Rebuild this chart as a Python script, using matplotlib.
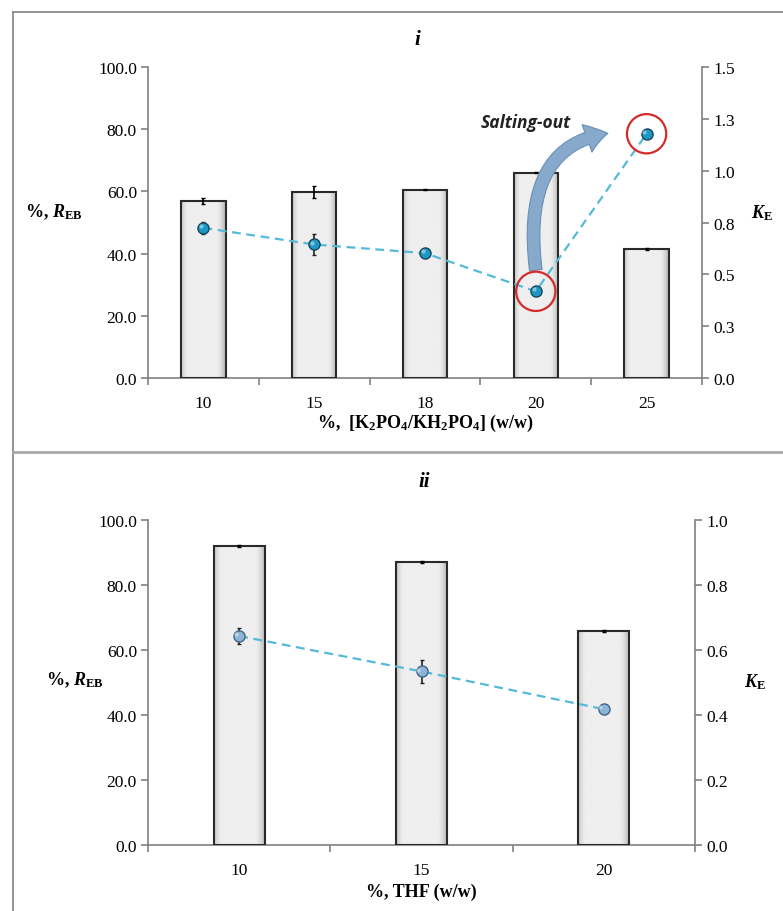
import numpy as np
import matplotlib
matplotlib.use("Agg")
import matplotlib.pyplot as plt
from matplotlib.lines import Line2D

plt.rcParams['font.family'] = ['Liberation Serif', 'DejaVu Serif']
plt.rcParams['mathtext.fontset'] = 'custom'
plt.rcParams['mathtext.rm'] = 'Liberation Serif'
plt.rcParams['mathtext.it'] = 'Liberation Serif:italic'
plt.rcParams['mathtext.bf'] = 'Liberation Serif:bold'
plt.rcParams['mathtext.bfit'] = 'Liberation Serif:bold:italic'

# ---------------- data ----------------
cats_i = ['10', '15', '18', '20', '25']
reb_i = [57.0, 59.8, 60.6, 66.0, 41.4]
reb_i_err = [0.9, 1.9, 0.3, 0.2, 0.4]
ke_i = [0.724, 0.644, 0.602, 0.418, 1.178]
ke_i_err = [0.03, 0.05, 0.01, 0.01, 0.01]
ke_i_ticks = [0.0, 0.25, 0.5, 0.75, 1.0, 1.25, 1.5]
ke_i_ticklabels = ['0.0', '0.3', '0.5', '0.8', '1.0', '1.3', '1.5']
highlight_idx = [3, 4]

cats_ii = ['10', '15', '20']
reb_ii = [92.0, 87.2, 65.9]
reb_ii_err = [0.3, 0.3, 0.3]
ke_ii = [0.643, 0.534, 0.418]
ke_ii_err = [0.024, 0.036, 0.01]

reb_ticks = [0, 20, 40, 60, 80, 100]

W, H = 783, 912
fig = plt.figure(figsize=(W / 100, H / 100), dpi=100)

GRAY = '#808080'
LINEC = '#55b9d8'


def gradient_bars(ax, bars):
    x = np.linspace(0, 1, 64)
    prof = (0.935
            - 0.16 * (np.clip(1 - x / 0.14, 0, 1) ** 1.5)
            - 0.24 * (np.clip((x - 0.80) / 0.20, 0, 1) ** 1.6))
    grad = np.tile(prof, (2, 1))
    for b in bars:
        x0, w, h = b.get_x(), b.get_width(), b.get_height()
        im = ax.imshow(grad, extent=[x0, x0 + w, 0, h], aspect='auto',
                       cmap='gray', vmin=0, vmax=1, zorder=2, interpolation='bilinear')
        im.set_clip_path(b)


def style_axes(ax, ax2, n):
    for a in (ax, ax2):
        a.spines['top'].set_visible(False)
        for s in ('left', 'right', 'bottom'):
            a.spines[s].set_color(GRAY)
            a.spines[s].set_linewidth(1.2)
    ax.spines['right'].set_visible(False)
    ax2.spines['left'].set_visible(False)
    ax2.spines['bottom'].set_visible(False)
    ax.set_xlim(-0.5, n - 0.5)
    ax.set_xticks(np.arange(-0.5, n, 1.0))
    ax.set_xticklabels([])
    ax.set_xticks(np.arange(n), minor=True)
    ax.tick_params(axis='x', which='major', direction='out', length=5, color=GRAY, width=1.2)
    ax.tick_params(axis='x', which='minor', length=0, labelsize=12.5, pad=12)
    ax.tick_params(axis='y', direction='out', length=5, color=GRAY, width=1.2, labelsize=12.5, pad=3)
    ax2.tick_params(axis='y', direction='out', length=5, color=GRAY, width=1.2, labelsize=12.5, pad=3)
    ax.set_ylim(0, 100)
    ax.set_yticks(reb_ticks)
    ax.set_yticklabels([f'{v:.1f}' for v in reb_ticks])


def panel(rect, cats, reb, reb_err, ke, ke_err, ke_lim, ke_ticks, ke_labels, bar_w, mcolor, medge):
    ax = fig.add_axes(rect)
    n = len(cats)
    xs = np.arange(n)
    bars = ax.bar(xs, reb, width=bar_w, color='none', edgecolor='#2a2a2a', linewidth=1.5, zorder=3)
    gradient_bars(ax, bars)
    ax.errorbar(xs, reb, yerr=reb_err, fmt='none', ecolor='black', elinewidth=1.2, capsize=1.5, zorder=4)
    ax.set_xticks(xs, minor=True)
    ax.set_xticklabels(cats, minor=True)
    ax2 = ax.twinx()
    ax2.errorbar(xs, ke, yerr=ke_err, fmt='none', ecolor='#222222', elinewidth=1.2, capsize=1.5, zorder=4)
    ax2.plot(xs, ke, linestyle=(0, (4, 2.5)), color=LINEC, linewidth=1.6, zorder=3)
    ax2.plot(xs, ke, linestyle='none', marker='o', markersize=8, markerfacecolor=mcolor,
             markeredgecolor=medge, markeredgewidth=1.0, zorder=5)
    ax2.plot(np.array(xs) - 0.02, np.array(ke) + (ke_lim[1] * 0.006), linestyle='none', marker='o',
             markersize=3, markerfacecolor='white', markeredgecolor='none', alpha=0.45, zorder=6)
    ax2.set_ylim(*ke_lim)
    ax2.set_yticks(ke_ticks)
    ax2.set_yticklabels(ke_labels)
    style_axes(ax, ax2, n)
    ax.set_xlim(-0.5, n - 0.5)
    return ax, ax2


# ---- panel i ----
ax1, ax1b = panel([148 / W, 1 - 379 / H, (702 - 148) / W, (379 - 68) / H],
                  cats_i, reb_i, reb_i_err, ke_i, ke_i_err, (0, 1.5),
                  ke_i_ticks, ke_i_ticklabels, 0.4, '#1d97c4', '#17465e')

# red circles
ax1b.scatter([highlight_idx[0], highlight_idx[1]], [ke_i[highlight_idx[0]], ke_i[highlight_idx[1]]],
             s=800, facecolors='none', edgecolors='#d42b2b', linewidths=1.6, zorder=6)

# curved arrow (Salting-out)
ax1b.annotate('', xy=(3.65, 1.18), xytext=(3.0, 0.52),
              arrowprops=dict(arrowstyle='simple,head_width=1.5,head_length=1.1,tail_width=0.65',
                              connectionstyle='angle3,angleA=97,angleB=8',
                              fc='#87a9cc', ec='#6b8fb6', lw=0.8, mutation_scale=14,
                              shrinkA=0, shrinkB=0), zorder=4)
fig.text(526 / W, 1 - 123 / H, 'Salting-out', ha='center', va='center',
         fontsize=12.5, fontweight='bold', fontstyle='italic',
         family=['Open Sans', 'DejaVu Sans'], color='#222222')

# ---- panel ii ----
ax2, ax2b = panel([148 / W, 1 - 846 / H, (695 - 148) / W, (846 - 521) / H],
                  cats_ii, reb_ii, reb_ii_err, ke_ii, ke_ii_err, (0, 1.0),
                  [0.0, 0.2, 0.4, 0.6, 0.8, 1.0], ['0.0', '0.2', '0.4', '0.6', '0.8', '1.0'],
                  0.28, '#8db3d6', '#3f6589')

# ---- texts ----
fs_lab = 13
fig.text(417 / W, 1 - 40 / H, 'i', ha='center', va='center', fontsize=15,
         fontweight='bold', fontstyle='italic')
fig.text(424 / W, 1 - 482 / H, 'ii', ha='center', va='center', fontsize=15,
         fontweight='bold', fontstyle='italic')

fig.text(25 / W, 1 - 212 / H, r'%, $\mathbfit{R}_{\mathbf{EB}}$', ha='left', va='center',
         fontsize=fs_lab, fontweight='bold')
fig.text(762 / W, 1 - 213 / H, r'$\mathbfit{K}_{\mathbf{E}}$', ha='center', va='center',
         fontsize=fs_lab, fontweight='bold')
fig.text(425 / W, 1 - 423 / H,
         r'%,  [K$_{\mathbf{2}}$PO$_{\mathbf{4}}$/KH$_{\mathbf{2}}$PO$_{\mathbf{4}}$] (w/w)',
         ha='center', va='center', fontsize=fs_lab, fontweight='bold')

fig.text(46 / W, 1 - 680 / H, r'%, $\mathbfit{R}_{\mathbf{EB}}$', ha='left', va='center',
         fontsize=fs_lab, fontweight='bold')
fig.text(755 / W, 1 - 682 / H, r'$\mathbfit{K}_{\mathbf{E}}$', ha='center', va='center',
         fontsize=fs_lab, fontweight='bold')
fig.text(421 / W, 1 - 892 / H, '%, THF (w/w)', ha='center', va='center',
         fontsize=fs_lab, fontweight='bold')

# ---- frame lines ----
fc = '#8a8a8a'
fig.add_artist(Line2D([13 / W, 13 / W], [0, 1 - 13 / H], color=fc, lw=1.3, transform=fig.transFigure))
fig.add_artist(Line2D([13 / W, 1], [1 - 13 / H, 1 - 13 / H], color=fc, lw=1.3, transform=fig.transFigure))
fig.add_artist(Line2D([13 / W, 1], [1 - 453 / H, 1 - 453 / H], color='#a8a8a8', lw=2.0, transform=fig.transFigure))

fig.savefig('out.png', dpi=100)
